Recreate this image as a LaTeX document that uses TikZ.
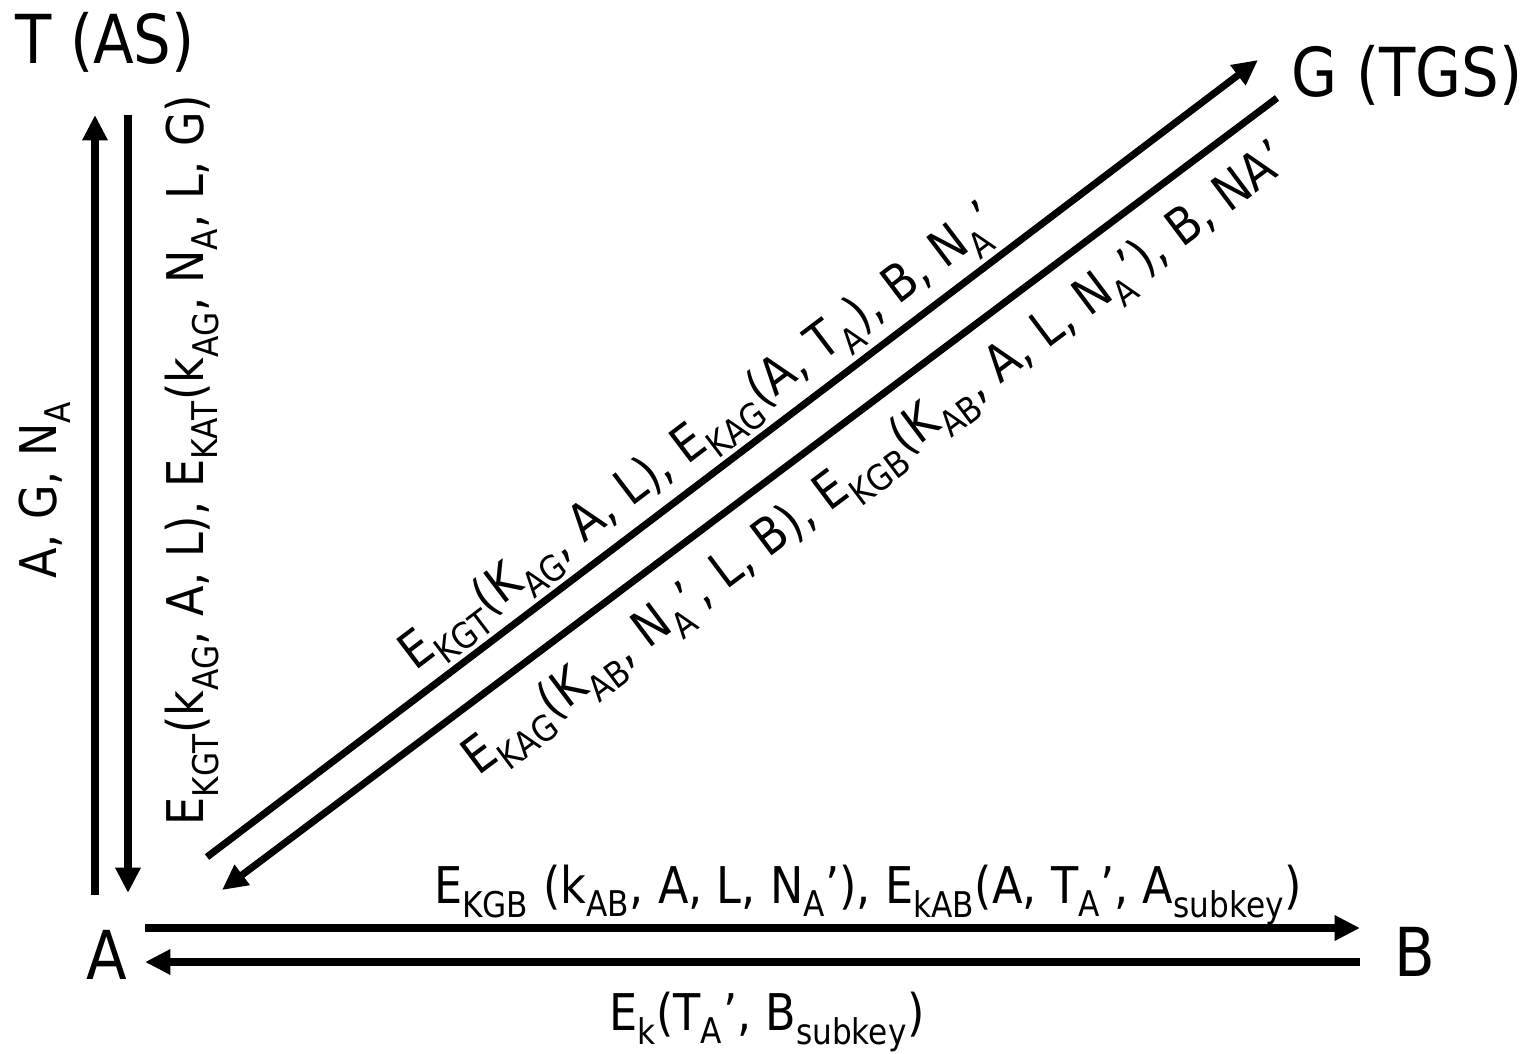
\documentclass[tikz,border=0pt]{standalone}
\usepackage{fontspec}
\setmainfont{DejaVu Sans}[FakeStretch=0.88]
\usetikzlibrary{arrows.meta}
\newcommand{\sub}[1]{\textsubscript{#1}}
\tikzset{
  party/.style = {font=\fontsize{48}{50}\selectfont, inner sep=0pt},
  lbl/.style = {font=\fontsize{36}{38}\selectfont, inner sep=0pt},
  msg/.style = {line width=5pt, -{Triangle[length=18pt, width=17pt]}}
}
\begin{document}
\begin{tikzpicture}[x=0.025cm, y=-0.025cm]
	\useasboundingbox (0,0) rectangle (1535,1054);
	% parties
	\node[party] (T) at (105,42) {T (AS)};
	\node[party] (G) at (1407,75) {G (TGS)};
	\node[party] (A) at (107,955) {A};
	\node[party] (B) at (1415,952) {B};
	% arrow ends
	\coordinate (ta1) at (95,895);   \coordinate (ta2) at (95,115);
	\coordinate (at1) at (128,115);  \coordinate (at2) at (128,893);
	\coordinate (ag1) at (207,857);  \coordinate (ag2) at (1258,60);
	\coordinate (ga1) at (1277,98);  \coordinate (ga2) at (222,890);
	\coordinate (ab1) at (145,928);  \coordinate (ab2) at (1360,928);
	\coordinate (ba1) at (1360,962); \coordinate (ba2) at (145,962);
	% messages
	\draw[msg] (ta1) -- (ta2);
	\draw[msg] (at1) -- (at2);
	\draw[msg] (ag1) -- (ag2);
	\draw[msg] (ga1) -- (ga2);
	\draw[msg] (ab1) -- (ab2);
	\draw[msg] (ba1) -- (ba2);
	% labels
	\node[lbl, rotate=90] (l1) at (45,490) {A, G, N\sub{A}};
	\node[lbl, rotate=90] (l2) at (192,460)
		{E\sub{KGT}(k\sub{AG}, A, L), E\sub{KAT}(k\sub{AG}, N\sub{A}, L, G)};
	\node[lbl, rotate=37.2] (l3) at (701,440)
		{E\sub{KGT}(K\sub{AG}, A, L), E\sub{KAG}(A, T\sub{A}), B, N\sub{A}’};
	\node[lbl, rotate=36.9] (l4) at (878,462)
		{E\sub{KAG}(K\sub{AB}, N\sub{A}’, L, B), E\sub{KGB}(K\sub{AB}, A, L, N\sub{A}’), B, NA’};
	\node[lbl] (l5) at (868,895)
		{E\sub{KGB} (k\sub{AB}, A, L, N\sub{A}’), E\sub{kAB}(A, T\sub{A}’, A\sub{subkey})};
	\node[lbl] (l6) at (767,1022) {E\sub{k}(T\sub{A}’, B\sub{subkey})};
\end{tikzpicture}
\end{document}
